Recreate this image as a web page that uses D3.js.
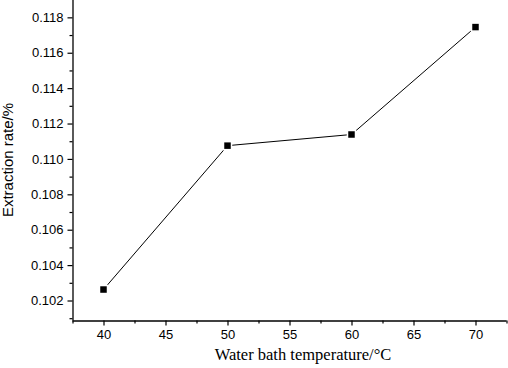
<!DOCTYPE html>
<html>
<head>
    <meta charset="utf-8"/>
    <title>Extraction rate vs water bath temperature</title>
    <script src="https://d3js.org/d3.v7.min.js"></script>
</head>
<style>
    body { margin: 0; background: white; }
</style>
<body>

<svg id="chart" width="508" height="368"></svg>

<script type="text/javascript">

    // data
    var temperatures = [40, 50, 60, 70];
    var extractionRates = [0.10262, 0.11075, 0.11138, 0.11745];

    var xTicks = [40, 45, 50, 55, 60, 65, 70];
    var yTicks = [0.102, 0.104, 0.106, 0.108, 0.110, 0.112, 0.114, 0.116, 0.118];

    var svg = d3.select("#chart");

    var x = d3.scaleLinear().domain([37.5, 72.5]).range([72.5, 506.5]);
    var y = d3.scaleLinear().domain([0.10087, 0.11898]).range([320.5, 0]);

    // x axis: major + minor ticks
    var xAxis = svg.append("g")
            .attr("transform", "translate(0,320.5)")
            .call(d3.axisBottom(x).tickValues(xTicks).tickSize(5).tickPadding(4)
                    .tickFormat(d3.format("d")));
    svg.append("g")
            .attr("transform", "translate(0,320.5)")
            .call(d3.axisBottom(x).tickValues(d3.range(37.5, 73, 5)).tickSize(3).tickFormat(""))
            .select(".domain").remove();

    // y axis
    var yAxis = svg.append("g")
            .attr("transform", "translate(72.5,0)")
            .call(d3.axisLeft(y).tickValues(yTicks).tickSize(5).tickPadding(4)
                    .tickFormat(d3.format(".3f")));
    svg.append("g")
            .attr("transform", "translate(72.5,0)")
            .call(d3.axisLeft(y).tickValues(d3.range(0.101, 0.1185, 0.002)).tickSize(3).tickFormat(""))
            .select(".domain").remove();

    xAxis.select(".domain").attr("d", "M72.5,0.5H506.5");
    yAxis.select(".domain").attr("d", "M0.5,0V320.5");

    svg.selectAll(".tick line").attr("stroke", "black").attr("stroke-width", 1.2);
    svg.selectAll(".domain").attr("stroke", "black").attr("stroke-width", 1.3);
    svg.selectAll(".tick text")
            .attr("font-family", "Arial, 'Liberation Sans', sans-serif")
            .attr("font-size", 13)
            .attr("fill", "black");

    // connecting line
    var points = temperatures.map(function (t, i) {
        return {t: t, v: extractionRates[i]};
    });

    svg.append("path")
            .datum(points)
            .attr("fill", "none")
            .attr("stroke", "black")
            .attr("stroke-width", 1)
            .attr("d", d3.line()
                    .x(function (d) { return x(d.t); })
                    .y(function (d) { return y(d.v); }));

    svg.selectAll(".marker")
            .data(points)
            .enter()
            .append("rect")
            .attr("class", "marker")
            .attr("x", function (d) { return x(d.t) - 4; })
            .attr("y", function (d) { return y(d.v) - 4; })
            .attr("width", 8)
            .attr("height", 8)
            .attr("fill", "black")
            .attr("stroke", "white")
            .attr("stroke-width", 1.5);

    // axis titles
    svg.append("text")
            .attr("x", 303)
            .attr("y", 360)
            .attr("text-anchor", "middle")
            .attr("font-family", "'Times New Roman', 'Liberation Serif', serif")
            .attr("font-size", 16.5)
            .text("Water bath temperature/\u00b0C");

    svg.append("text")
            .attr("transform", "translate(13,160) rotate(-90)")
            .attr("text-anchor", "middle")
            .attr("font-family", "Arial, 'Liberation Sans', sans-serif")
            .attr("font-size", 15)
            .text("Extraction rate/%");
</script>
</body>
</html>
